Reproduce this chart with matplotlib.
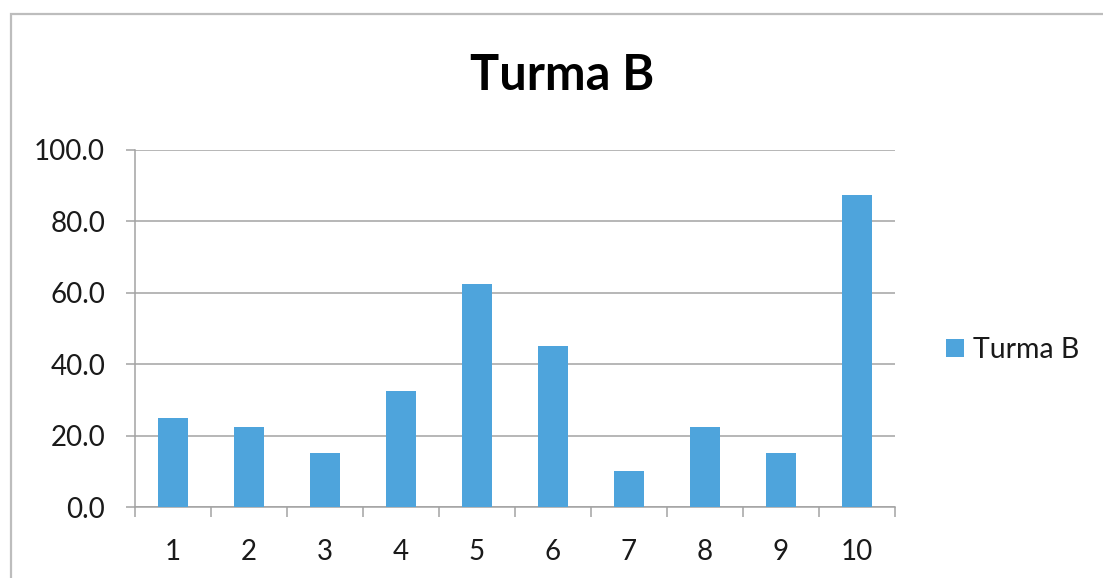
import numpy as np
import matplotlib
matplotlib.use("Agg")
from matplotlib import pyplot as plt
from matplotlib.patches import Rectangle

# dados da turma
categorias = ["1", "2", "3", "4", "5", "6", "7", "8", "9", "10"]
valores = [25.0, 22.5, 15.0, 32.5, 62.5, 45.0, 10.0, 22.5, 15.0, 87.5]
y_ticks = [0, 20, 40, 60, 80, 100]
serie = "Turma B"

azul = "#4EA4DC"
cinza = "#A3A3A3"

plt.rcParams["font.family"] = ["Lato", "DejaVu Sans"]

fig = plt.figure(figsize=(11.03, 5.78), dpi=100)
ax = fig.add_axes([0.1224, 0.1228, 0.8114 - 0.1224, 0.7405 - 0.1228])

x = np.arange(len(categorias))
ax.bar(x, valores, width=0.39, color=azul, label=serie, zorder=3)

ax.set_xlim(-0.5, len(categorias) - 0.5)
ax.set_ylim(0, 100)
ax.set_yticks(y_ticks)
ax.set_yticklabels([f"{v:.1f}" for v in y_ticks])
ax.set_xticks(x)
ax.set_xticklabels(categorias)
# marcas do eixo x entre as categorias
ax.set_xticks(np.arange(len(categorias) + 1) - 0.5, minor=True)

ax.yaxis.grid(True, color=cinza, linewidth=1.1, zorder=0)
for s in ["top", "right"]:
    ax.spines[s].set_visible(False)
for s in ["left", "bottom"]:
    ax.spines[s].set_color(cinza)
    ax.spines[s].set_linewidth(1.1)

ax.tick_params(axis="y", length=6.5, width=1.1, color=cinza, pad=15,
               labelsize=20, labelcolor="#1a1a1a")
ax.tick_params(axis="x", which="major", length=0, pad=23,
               labelsize=20, labelcolor="#1a1a1a")
ax.tick_params(axis="x", which="minor", length=7.5, width=1.1, color=cinza)

fig.text(562 / 1103, 1 - 76 / 578, "Turma B", ha="center", va="center",
         fontsize=35, fontweight="bold", color="black")

ax.legend(loc="center left", bbox_to_anchor=(946 / 1103, 1 - 350 / 578),
          bbox_transform=fig.transFigure, frameon=False, fontsize=20.5,
          handlelength=0.63, handleheight=0.63, handletextpad=0.32,
          borderpad=0, borderaxespad=0, labelcolor="#1a1a1a")

# moldura do gráfico
fig.patches.append(Rectangle((11 / 1103, -0.1), 1.2, 1.1 - 14 / 578,
                             transform=fig.transFigure, fill=False,
                             edgecolor="#BDBDBD", linewidth=1.6))

fig.savefig("out.png", dpi=100)
